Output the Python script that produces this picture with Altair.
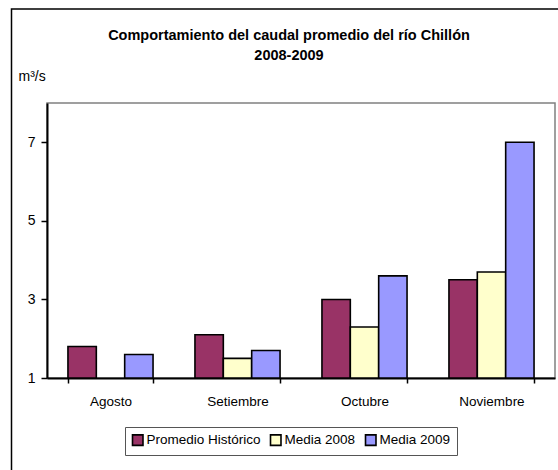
import altair as alt
import pandas as pd

meses = ["Agosto", "Setiembre", "Octubre", "Noviembre"]
series = ["Promedio Histórico", "Media 2008", "Media 2009"]
promedio_historico = [1.8, 2.1, 3.0, 3.5]
media_2008 = [None, 1.5, 2.3, 3.7]
media_2009 = [1.6, 1.7, 3.6, 7.0]
colores = ["#993366", "#FFFFCC", "#9999FF"]
y_ticks = [1, 3, 5, 7]

FONT = "Liberation Sans, Arial, sans-serif"

rows = []
for s, vals in zip(series, [promedio_historico, media_2008, media_2009]):
    for m, v in zip(meses, vals):
        if v is not None:
            rows.append({"mes": m, "serie": s, "valor": v})
df = pd.DataFrame(rows)

W, H = 508, 275
PAD_L, PAD_T = 47, 103

bars = alt.Chart(df).mark_bar(stroke="black", strokeWidth=1.6).encode(
    x=alt.X("mes:N", sort=meses,
            scale=alt.Scale(domain=meses, paddingInner=0.33, paddingOuter=0.165),
            axis=alt.Axis(title=None, labelAngle=0, tickBand="extent", tickSize=5,
                          labelPadding=11, labelFontSize=13.5, domainWidth=2,
                          tickWidth=1.5)),
    xOffset=alt.XOffset("serie:N", sort=series,
                        scale=alt.Scale(domain=series, paddingInner=0, paddingOuter=0)),
    y=alt.Y("valor:Q",
            scale=alt.Scale(domain=[1, 8], nice=False, zero=False),
            axis=alt.Axis(values=y_ticks, title="m³/s", titleAngle=0, titleX=-29,
                          titleY=-23, titleAlign="left", titleBaseline="alphabetic",
                          titleFontWeight="normal", titleFontSize=14, grid=False,
                          tickSize=6, labelPadding=6, labelFontSize=14,
                          domainWidth=2, tickWidth=1.5)),
    y2=alt.datum(1),
    color=alt.Color("serie:N", sort=series,
                    scale=alt.Scale(domain=series, range=colores),
                    legend=alt.Legend(title=None, orient="none", legendX=78, legendY=324,
                                      direction="horizontal", symbolType="square",
                                      symbolSize=110, symbolStrokeColor="black",
                                      symbolStrokeWidth=1.6, labelFontSize=13.5,
                                      labelOffset=2, columnPadding=6,
                                      strokeColor="#555", padding=6, fillColor="white")),
)

frame = alt.Chart(pd.DataFrame({"a": [0]})).mark_rect(
    fill=None, stroke="black", strokeWidth=1.5, clip=False
).encode(
    x=alt.value(-35.5), x2=alt.value(520), y=alt.value(-94), y2=alt.value(400)
)

chart = alt.layer(bars, frame).properties(
    width=W, height=H,
    autosize=alt.AutoSizeParams(type="none"),
    padding={"left": PAD_L, "top": PAD_T, "right": 3, "bottom": 92},
    title=alt.TitleParams(
        text=["Comportamiento del caudal promedio del río Chillón", "2008-2009"],
        fontSize=14.5, fontWeight="bold", anchor="middle", dx=-12, offset=-55,
        lineHeight=20, font=FONT, color="black"),
    background="white",
).configure_view(
    stroke="#808080", strokeWidth=1.5
).configure_axis(
    labelFont=FONT, titleFont=FONT, labelColor="black", titleColor="black",
    domainColor="black", tickColor="black"
).configure_legend(
    labelFont=FONT, labelColor="black"
)

chart.save("out.html", embed_options={"renderer": "svg", "actions": False})
